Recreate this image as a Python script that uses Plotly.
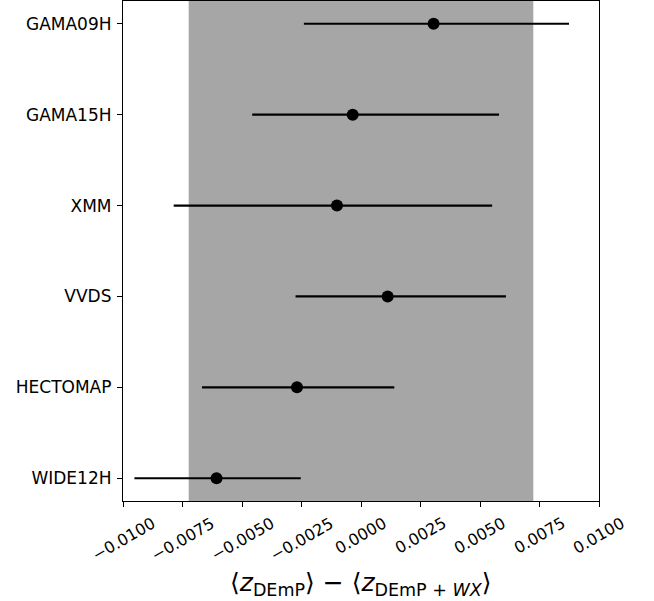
import plotly.graph_objects as go

# Per-field offsets between the two redshift estimates
fields = ["GAMA09H", "GAMA15H", "XMM", "VVDS", "HECTOMAP", "WIDE12H"]
mean_offset = [0.00305, -0.00035, -0.00101, 0.00112, -0.00269, -0.00607]
lower_bound = [-0.00240, -0.00457, -0.00787, -0.00275, -0.00668, -0.00952]
upper_bound = [0.00874, 0.00580, 0.00551, 0.00609, 0.00140, -0.00253]

# Tolerance band
band = [-0.00724, 0.00724]

x_ticks = [-0.01, -0.0075, -0.005, -0.0025, 0.0, 0.0025, 0.005, 0.0075, 0.01]

err_plus = [u - m for u, m in zip(upper_bound, mean_offset)]
err_minus = [m - l for m, l in zip(mean_offset, lower_bound)]

font_family = "DejaVu Sans, Liberation Sans, sans-serif"

fig = go.Figure()
fig.add_trace(go.Scatter(
    x=mean_offset,
    y=fields,
    mode="markers",
    marker=dict(color="black", size=12),
    error_x=dict(type="data", symmetric=False, array=err_plus,
                 arrayminus=err_minus, color="black", thickness=2.2, width=0),
    showlegend=False,
))

fig.add_shape(type="rect", xref="x", yref="paper",
              x0=band[0], x1=band[1], y0=0, y1=1,
              fillcolor="#a6a6a6", line=dict(width=0), layer="below")

# Rotated tick labels centred under each tick
for v in x_ticks:
    fig.add_annotation(
        x=v, xref="x", y=0, yref="paper",
        text=f"{v:.4f}".replace("-", "−"),
        textangle=-30, xanchor="center", yanchor="top",
        yshift=-10, showarrow=False,
        font=dict(size=16, family=font_family, color="black"),
    )

# Axis title
fig.add_annotation(
    x=0.5, xref="paper", y=0, yref="paper",
    text="⟨<i>z</i><sub>DEmP</sub>⟩ − ⟨<i>z</i><sub>DEmP + <i>WX</i></sub>⟩",
    xanchor="center", yanchor="middle", yshift=-83, showarrow=False,
    font=dict(size=25, family=font_family, color="black"),
)

fig.update_layout(
    width=654, height=601,
    margin=dict(l=123, r=55, t=1, b=100),
    plot_bgcolor="white", paper_bgcolor="white",
    font=dict(family=font_family, size=13, color="black"),
    xaxis=dict(
        range=[-0.01, 0.01], tickvals=x_ticks, showticklabels=False,
        ticks="outside", ticklen=5, tickwidth=1,
        tickcolor="black", showgrid=False, zeroline=False,
        showline=True, linecolor="black", linewidth=1.2, mirror=True,
    ),
    yaxis=dict(
        type="category", categoryorder="array", categoryarray=fields,
        range=[5.25, -0.25], ticks="outside", ticklen=5, tickwidth=1,
        tickcolor="black", showgrid=False, zeroline=False,
        showline=True, linecolor="black", linewidth=1.2, mirror=True,
        tickfont=dict(size=17), ticklabelstandoff=2,
    ),
)

fig.write_html("out.html")
